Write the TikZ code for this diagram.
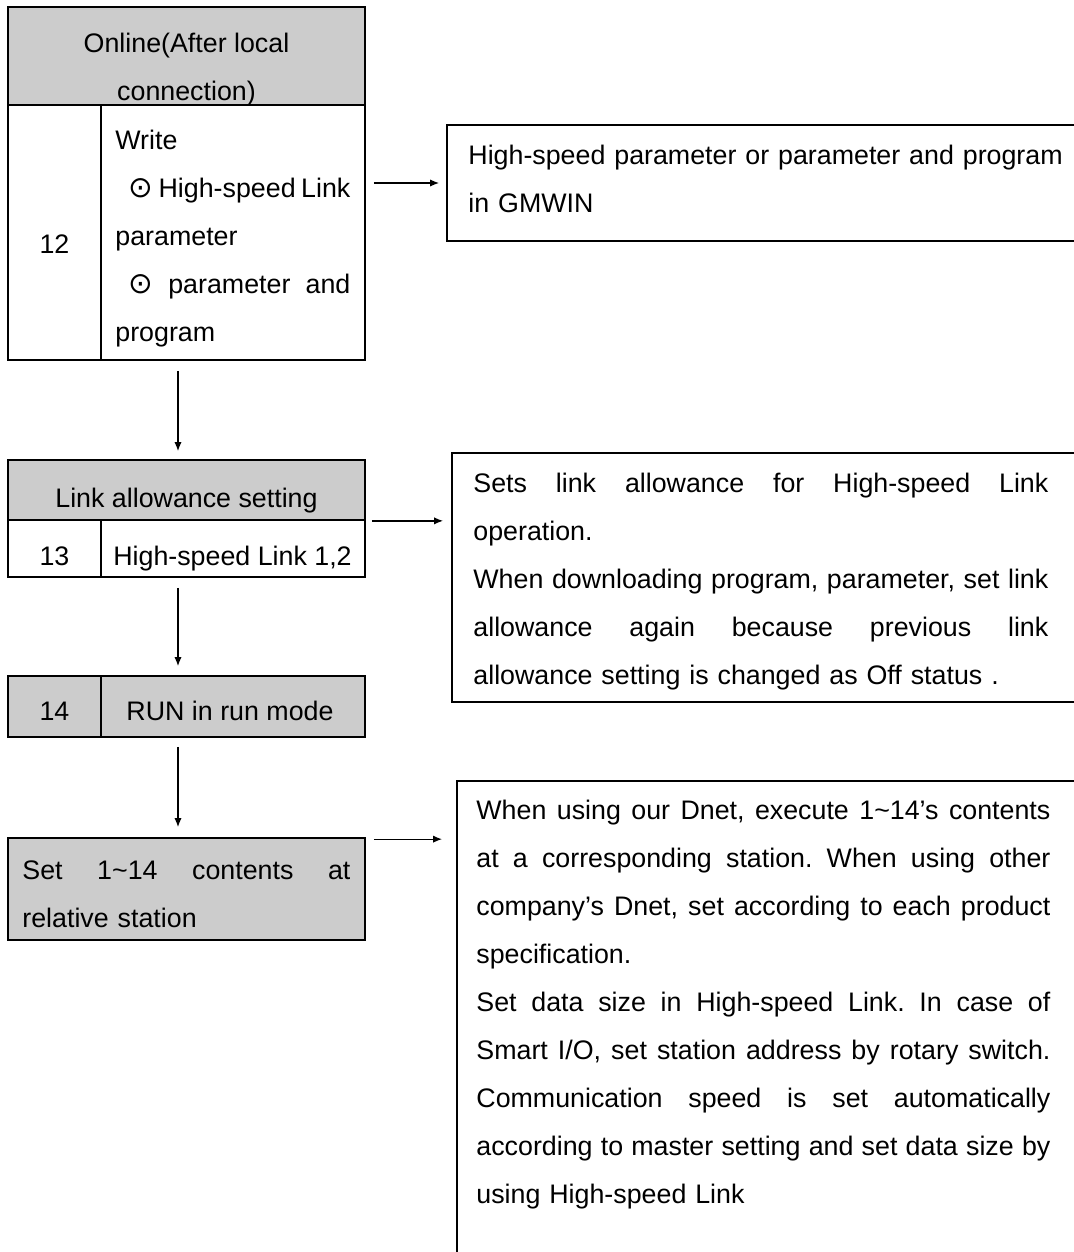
\documentclass[tikz,border=0pt]{standalone}
\usepackage{fontspec}
\setmainfont{Liberation Sans}
\newfontfamily\symfont[Scale=1.1]{DejaVu Sans}
\usetikzlibrary{arrows.meta,fit}
\frenchspacing
\newcommand{\fullline}[1]{{\spaceskip=0pt\xspaceskip=0pt\makebox[\hsize][s]{#1}}}

\begin{document}
\begin{tikzpicture}[x=0.5pt,y=-0.5pt,
  box/.style={draw,line width=0.85pt,inner sep=0pt},
  grey/.style={box,fill=black!20},
  txt/.style={inner sep=0pt,font=\fontsize{13.4}{24}\selectfont},
  arr/.style={line width=0.65pt,-{Latex[length=4.5pt,width=3.6pt]}}]
\useasboundingbox (0,0) rectangle (1074,1252);
\clip (0,0) rectangle (1074,1252);
% step 12
\node[grey,fit={(8,7) (365,105)}] (hdrA) {};
\node[box,fit={(8,105) (101,360)}] (numA) {};
\node[box,fit={(101,105) (365,360)}] (txtA) {};
\node[txt,anchor=north,align=center] (hdrAtext) at (186.5,33) {Online(After local\\connection)};
\node[txt,anchor=north] (numAtext) at (54.5,234) {12};
\node[txt,anchor=north west,text width=117.5pt,align=left] (txtAtext) at (115,130) {Write\\
  \fullline{\hspace*{6.5pt}{\symfont ⊙} High-speed Link}\\
  parameter\\
  \fullline{\hspace*{6.5pt}{\symfont ⊙} parameter and}\\
  program};
% step 13
\node[grey,fit={(8,460) (365,520)}] (hdrB) {};
\node[box,fit={(8,520) (101,577)}] (numB) {};
\node[box,fit={(101,520) (365,577)}] (txtB) {};
\node[txt,anchor=north] (hdrBtext) at (186.5,488) {Link allowance setting};
\node[txt,anchor=north] (numBtext) at (54.5,546) {13};
\node[txt,anchor=north] (txtBtext) at (232.5,546) {High-speed Link 1,2};
% step 14
\node[grey,fit={(8,676) (101,737)}] (numC) {};
\node[grey,fit={(101,676) (365,737)}] (txtC) {};
\node[txt,anchor=north] (numCtext) at (54.5,701.5) {14};
\node[txt,anchor=north] (txtCtext) at (230,701) {RUN in run mode};
% relative station
\node[grey,fit={(8,838) (365,940)}] (setD) {};
\node[txt,anchor=north west,text width=164pt,align=left] (setDtext) at (22,860) {\fullline{Set 1\textasciitilde14 contents at}\\
  relative station};
% notes
\node[box,fit={(447,125) (1090,241)}] (noteA) {};
\node[txt,anchor=north west,text width=300pt,align=left] (noteAtext) at (468,145) {High-speed parameter or parameter and program\\
  in GMWIN};
\node[box,fit={(452,453) (1090,702)}] (noteB) {};
\node[txt,anchor=north west,text width=287.5pt,align=left] (noteBtext) at (473,473) {\fullline{Sets link allowance for High-speed Link}\\
  operation.\\
  \fullline{When downloading program, parameter, set link}\\
  \fullline{allowance again because previous link}\\
  allowance setting is changed as Off status .};
\node[box,fit={(457,781) (1090,1280)}] (noteC) {};
\node[txt,anchor=north west,text width=287pt,align=left] (noteCtext) at (476,800) {\fullline{When using our Dnet, execute 1\textasciitilde14’s contents}\\
  \fullline{at a corresponding station. When using other}\\
  \fullline{company’s Dnet, set according to each product}\\
  specification.\\
  \fullline{Set data size in High-speed Link. In case of}\\
  \fullline{Smart I/O, set station address by rotary switch.}\\
  \fullline{Communication speed is set automatically}\\
  \fullline{according to master setting and set data size by}\\
  using High-speed Link};
% arrows
\draw[arr,shorten <=4pt,shorten >=3.5pt] (txtA.east |- noteA.west) -- (noteA.west);
\draw[arr,shorten <=3pt,shorten >=4pt] (hdrB.south east) -- (hdrB.south east -| noteB.west);
\draw[arr,shorten <=4pt,shorten >=7pt] ([yshift=-1pt]setD.north east) -- ([yshift=-1pt]setD.north east -| noteC.west);
\draw[arr,shorten <=5pt,shorten >=4pt] ([xshift=-4.25pt]hdrA.south |- numA.south) -- ([xshift=-4.25pt]hdrB.north);
\draw[arr,shorten <=5pt,shorten >=4.5pt] ([xshift=-4.25pt]hdrB.south |- numB.south) -- ([xshift=-4.25pt]hdrB.south |- numC.north);
\draw[arr,shorten <=4.5pt,shorten >=5pt] ([xshift=-4.25pt]hdrB.south |- numC.south) -- ([xshift=-4.25pt]setD.north);
\end{tikzpicture}
\end{document}
